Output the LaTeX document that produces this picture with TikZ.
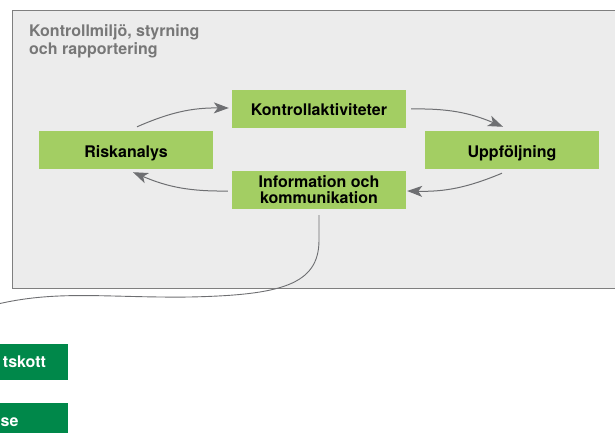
\documentclass[tikz,border=0pt]{standalone}
\usepackage{fontspec}
\setmainfont{TeX Gyre Heros}
\usetikzlibrary{arrows.meta}
\definecolor{stagegreen}{HTML}{A3CE63}
\definecolor{boardgreen}{HTML}{00884A}
\definecolor{framefill}{HTML}{ECECEC}
\definecolor{framegray}{HTML}{7F7F7F}
\definecolor{titlegray}{HTML}{777777}
\definecolor{arrowgray}{HTML}{6E6F72}
\begin{document}
\begin{tikzpicture}[x=1pt,y=-1pt,
  stage/.style={fill=stagegreen, minimum width=174pt, minimum height=38pt, inner sep=0pt,
    align=center, font=\fontsize{16}{16}\selectfont\bfseries},
  oneline/.style={text height=14pt, text depth=0pt},
  board/.style={fill=boardgreen, text=white, minimum width=174pt, minimum height=36pt,
    inner ysep=0pt, align=right, text height=10pt, text depth=0pt,
    font=\fontsize{16}{16}\selectfont\bfseries},
  flow/.style={draw=arrowgray, line width=1pt, -{Stealth[length=15pt,width=11pt,inset=4pt]}, bend left=12},
  link/.style={draw=arrowgray, line width=0.9pt}]

  \useasboundingbox (0,0) rectangle (615,433);
  \clip (0,0) rectangle (615,433);

  % grey frame with its title
  \draw[draw=framegray, fill=framefill, line width=1pt] (12,11) rectangle (640,288);
  \node[anchor=north west, inner sep=0pt, align=left, text=titlegray,
    font=\fontsize{16}{18}\selectfont\bfseries] (TI) at (29,24.3) {Kontrollmiljö, styrning\\och rapportering};

  % the four stages
  \node[stage, oneline] (RA) at (126,150) {Riskanalys};
  \node[stage, oneline] (KA) at (319,109) {Kontrollaktiviteter};
  \node[stage, oneline] (UF) at (512,150) {Uppföljning};
  \node[stage] (IK) at (319,190) {Information och\\kommunikation};

  \draw[flow] ([shift={(11,-4)}]RA.north) to ([shift={(-3,-1)}]KA.west);
  \draw[flow] ([xshift=5pt]KA.east) to ([shift={(-9,-4)}]UF.north);
  \draw[flow] ([shift={(-10,4)}]UF.south) to ([shift={(1,1)}]IK.east);
  \draw[flow] ([shift={(-4,1)}]IK.west) to ([shift={(7,3)}]RA.south);

  % boxes below the frame
  \node[board, inner xsep=22pt, text width=130pt] (RU) at (-19,362) {tskott};
  \node[board, inner xsep=49.5pt, text width=75pt] (ST) at (-19,421) {se};

  \coordinate (LE) at (0,303.5);
  \draw[link] ([yshift=-6pt]IK.south) -- ++(0,25) .. controls +(0,45) and (280,295) .. (190,297)
    .. controls (110,298) and (60,290) .. (LE);

\end{tikzpicture}
\end{document}
